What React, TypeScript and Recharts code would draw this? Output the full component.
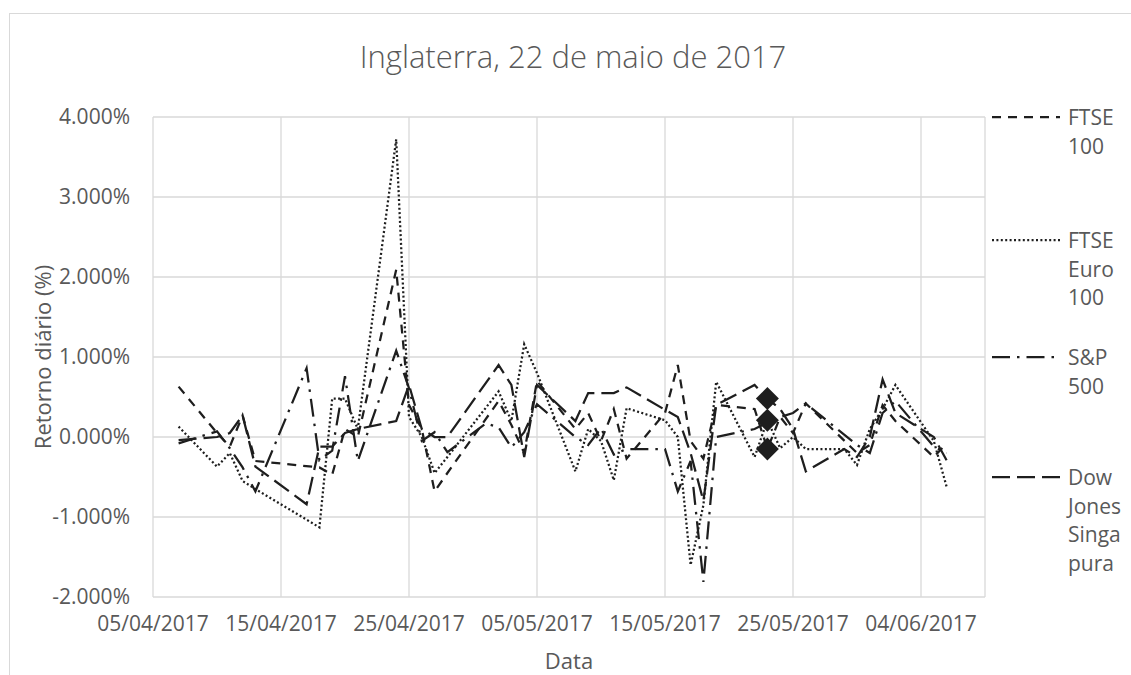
import { LineChart, Line, XAxis, YAxis, CartesianGrid } from 'recharts';

// Retornos diários (%), por mercado
const YEAR = 2017;
const EVENT_DATE = '23/05';

const UK_DATES = [
  '07/04', '10/04', '11/04', '12/04', '13/04', '18/04', '19/04', '20/04', '21/04',
  '24/04', '25/04', '26/04', '27/04', '28/04', '02/05', '03/05', '04/05', '05/05',
  '08/05', '09/05', '10/05', '11/05', '12/05', '15/05', '16/05', '17/05', '18/05',
  '19/05', '22/05', '23/05', '24/05', '25/05', '26/05', '30/05', '31/05', '01/06',
  '02/06', '05/06', '06/06',
];
const FTSE100 = [
  0.63, 0.05, -0.12, 0.27, -0.3, -0.38, -0.47, 0.1, 0.0,
  2.09, 0.4, 0.1, -0.68, -0.45, 0.45, 0.15, -0.2, 0.7,
  0.1, 0.3, -0.05, 0.35, -0.27, 0.3, 0.9, -0.05, -0.27,
  0.4, 0.35, -0.15, 0.25, 0.05, 0.42, -0.2, -0.1, 0.4,
  0.2, -0.25, -0.08,
];

const EU_DATES = [
  '07/04', '10/04', '11/04', '12/04', '13/04', '18/04', '19/04', '20/04', '21/04',
  '24/04', '25/04', '26/04', '27/04', '28/04', '02/05', '03/05', '04/05', '05/05',
  '08/05', '09/05', '10/05', '11/05', '12/05', '15/05', '16/05', '17/05', '18/05',
  '19/05', '22/05', '23/05', '24/05', '25/05', '26/05', '29/05', '30/05', '31/05',
  '01/06', '02/06', '05/06', '06/06',
];
const FTSE_EURO100 = [
  0.13, -0.37, -0.2, -0.55, -0.65, -1.13, 0.48, 0.48, 0.1,
  3.72, 0.25, 0.0, -0.45, -0.25, 0.57, 0.2, 1.16, 0.8,
  -0.43, 0.1, -0.05, -0.54, 0.36, 0.21, 0.0, -1.6, -0.85,
  0.69, -0.25, 0.21, -0.14, 0.0, -0.15, -0.15, -0.35, 0.1,
  0.35, 0.65, -0.05, -0.62,
];

const US_DATES = [
  '07/04', '10/04', '11/04', '12/04', '13/04', '17/04', '18/04', '19/04', '20/04',
  '21/04', '24/04', '25/04', '26/04', '27/04', '28/04', '01/05', '02/05', '03/05',
  '04/05', '05/05', '08/05', '09/05', '10/05', '11/05', '12/05', '15/05', '16/05',
  '17/05', '18/05', '19/05', '22/05', '23/05', '24/05', '25/05', '26/05', '30/05',
  '31/05', '01/06', '02/06', '05/06', '06/06',
];
const SP500 = [
  -0.08, 0.07, -0.14, -0.38, -0.68, 0.86, -0.29, -0.17, 0.76,
  -0.3, 1.08, 0.61, -0.05, 0.06, -0.19, 0.17, 0.12, -0.13,
  0.06, 0.41, 0.0, -0.1, 0.11, -0.22, -0.15, -0.15, -0.68,
  -0.3, -1.81, 0.0, 0.1, 0.18, 0.25, 0.3, 0.42, -0.1,
  -0.2, 0.3, 0.45, -0.12, -0.2,
];

const SG_DATES = [
  '07/04', '10/04', '11/04', '12/04', '13/04', '17/04', '18/04', '19/04', '20/04',
  '21/04', '24/04', '25/04', '26/04', '27/04', '28/04', '02/05', '03/05', '04/05',
  '05/05', '08/05', '09/05', '11/05', '12/05', '15/05', '16/05', '17/05', '18/05',
  '19/05', '22/05', '23/05', '24/05', '25/05', '26/05', '29/05', '30/05', '31/05',
  '01/06', '02/06', '05/06', '06/06',
];
const DJ_SING = [
  -0.04, 0.0, 0.05, 0.27, -0.37, -0.84, -0.12, -0.12, 0.05,
  0.1, 0.2, 0.65, 0.1, 0.0, 0.0, 0.9, 0.65, -0.25,
  0.65, 0.2, 0.55, 0.55, 0.62, 0.34, 0.25, -0.2, -0.8,
  0.4, 0.65, 0.48, 0.35, 0.1, -0.43, -0.15, -0.25, 0.0,
  0.72, 0.3, 0.0, -0.29,
];

const X_TICK_DATES = ['05/04', '15/04', '25/04', '05/05', '15/05', '25/05', '04/06'];
const X_END = '09/06';
const Y_TICKS = [-2, -1, 0, 1, 2, 3, 4];

const INK = '#1e1e1e';
const TEXT = '#595959';
const FONT = '"Open Sans", "Noto Sans", sans-serif';

function toTime(d: string) {
  const [dd, mm] = d.split('/').map(Number);
  return Date.UTC(YEAR, mm - 1, dd);
}

function build(dates: string[], values: number[]) {
  return dates.map((d, i) => ({ t: toTime(d), label: d, v: values[i] }));
}

function fmtDate(t: number) {
  const dt = new Date(t);
  const dd = String(dt.getUTCDate()).padStart(2, '0');
  const mm = String(dt.getUTCMonth() + 1).padStart(2, '0');
  return `${dd}/${mm}/${dt.getUTCFullYear()}`;
}

const SERIES = [
  { name: 'FTSE 100', lines: ['FTSE', '100'], data: build(UK_DATES, FTSE100), dash: '9 7', event: true },
  { name: 'FTSE Euro 100', lines: ['FTSE', 'Euro', '100'], data: build(EU_DATES, FTSE_EURO100), dash: '2 2.4', event: true },
  { name: 'S&P 500', lines: ['S&P', '500'], data: build(US_DATES, SP500), dash: '18 7 2.5 7', event: false },
  { name: 'Dow Jones Singapura', lines: ['Dow', 'Jones', 'Singa', 'pura'], data: build(SG_DATES, DJ_SING), dash: '18 7', event: true },
];

// legend rows (y of first text line)
const LEGEND_TOP = [117, 240, 357, 477];

function EventDot(props: any) {
  const { cx, cy, payload, index } = props;
  if (!payload || payload.label !== EVENT_DATE) return <g key={index} />;
  const r = 11.5;
  return (
    <path
      key={index}
      d={`M${cx},${cy - r}L${cx + r},${cy}L${cx},${cy + r}L${cx - r},${cy}Z`}
      fill={INK}
    />
  );
}

export default function App() {
  return (
    <div style={s.page}>
      <div style={s.frame} />
      <div style={s.title}>Inglaterra, 22 de maio de 2017</div>
      <div style={s.yTitle}>Retorno diário (%)</div>
      <div style={s.xTitle}>Data</div>

      <LineChart width={1131} height={675} margin={{ top: 117, right: 146, bottom: 18, left: 33 }}>
        <CartesianGrid stroke="#d9d9d9" strokeWidth={1.3} />
        <XAxis
          type="number"
          dataKey="t"
          domain={[toTime(X_TICK_DATES[0]), toTime(X_END)]}
          ticks={X_TICK_DATES.map(toTime)}
          tickFormatter={fmtDate}
          axisLine={false}
          tickLine={false}
          tickSize={0}
          tickMargin={19}
          height={60}
          interval={0}
          tick={{ fill: TEXT, fontSize: 21, fontFamily: FONT }}
        />
        <YAxis
          type="number"
          domain={[-2, 4]}
          ticks={Y_TICKS}
          tickFormatter={(v: number) => v.toFixed(3) + '%'}
          axisLine={false}
          tickLine={false}
          tickSize={0}
          tickMargin={23}
          width={120}
          interval={0}
          tick={{ fill: TEXT, fontSize: 21, fontFamily: FONT }}
        />
        {SERIES.map((sr) => (
          <Line
            key={sr.name}
            name={sr.name}
            data={sr.data}
            dataKey="v"
            type="linear"
            stroke={INK}
            strokeWidth={2.25}
            strokeDasharray={sr.dash}
            dot={sr.event ? EventDot : false}
            activeDot={false}
            isAnimationActive={false}
          />
        ))}
      </LineChart>

      {SERIES.map((sr, i) => (
        <div key={sr.name} style={{ ...s.legendItem, top: LEGEND_TOP[i] - 14 }}>
          <svg width={70} height={28} style={s.legendSwatch}>
            <line x1={0} y1={14} x2={68} y2={14} stroke={INK} strokeWidth={2.25} strokeDasharray={sr.dash} />
          </svg>
          <div style={s.legendText}>
            {sr.lines.map((l) => (
              <div key={l}>{l}</div>
            ))}
          </div>
        </div>
      ))}
    </div>
  );
}

const s: Record<string, React.CSSProperties> = {
  page: {
    position: 'absolute',
    left: 0,
    top: 0,
    width: 1131,
    height: 675,
    background: '#FFFFFF',
    overflow: 'hidden',
    fontFamily: FONT,
  },
  frame: {
    position: 'absolute',
    left: 9,
    top: 13,
    width: 1200,
    height: 700,
    border: '1px solid #d9d9d9',
  },
  title: {
    position: 'absolute',
    left: 0,
    width: 1146,
    top: 34,
    textAlign: 'center',
    fontSize: 31,
    fontWeight: 300,
    color: TEXT,
    lineHeight: '44px',
  },
  yTitle: {
    position: 'absolute',
    left: 42,
    top: 357,
    transform: 'translate(-50%, -50%) rotate(-90deg)',
    whiteSpace: 'nowrap',
    fontSize: 22,
    color: TEXT,
  },
  xTitle: {
    position: 'absolute',
    left: 569,
    top: 660,
    transform: 'translate(-50%, -50%)',
    fontSize: 22,
    color: TEXT,
  },
  legendItem: {
    position: 'absolute',
    left: 992,
    display: 'flex',
    alignItems: 'flex-start',
  },
  legendSwatch: {
    display: 'block',
  },
  legendText: {
    marginLeft: 6,
    fontSize: 21,
    lineHeight: '28.5px',
    color: TEXT,
  },
};
